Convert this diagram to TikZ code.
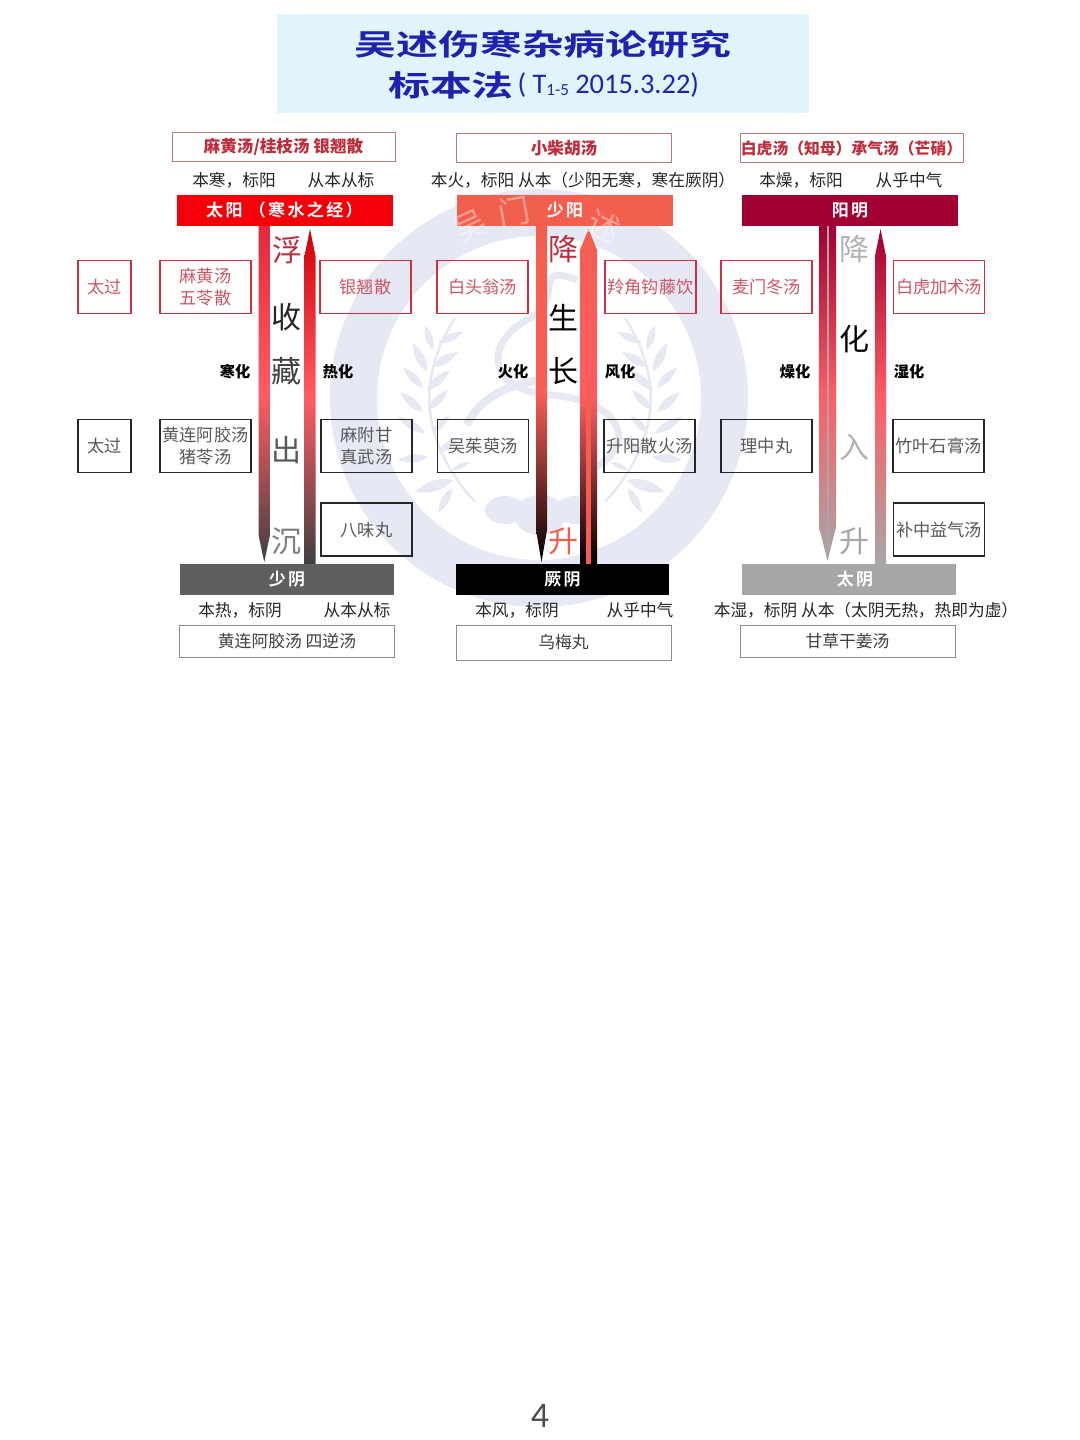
\documentclass[tikz,border=0pt]{standalone}
\usepackage{fontspec}
\setmainfont{Noto Sans CJK SC}
\newfontfamily\titlefont[FakeStretch=1.434,BoldFont={Noto Sans CJK SC Bold}]{Noto Sans CJK SC}
\newfontfamily\barfont[LetterSpace=14,BoldFont={Noto Sans CJK SC Bold}]{Noto Sans CJK SC}
\newfontfamily\datefont{Carlito}
\definecolor{titlesky}{RGB}{225, 244, 252}
\definecolor{titleblue}{RGB}{30, 35, 175}
\definecolor{herbred}{RGB}{200, 50, 65}
\definecolor{herbtext}{RGB}{205, 85, 100}
\definecolor{headred}{RGB}{190, 45, 60}
\definecolor{headedge}{RGB}{180, 125, 125}
\definecolor{taiyangred}{RGB}{245, 0, 10}
\definecolor{shaoyangred}{RGB}{243, 95, 78}
\definecolor{yangmingred}{RGB}{160, 0, 50}
\definecolor{shaoyingrey}{RGB}{95, 95, 95}
\definecolor{taiyingrey}{RGB}{167, 167, 167}
\definecolor{glowred}{RGB}{255, 92, 100}
\definecolor{shaftred}{RGB}{228, 40, 60}
\definecolor{stampblue}{RGB}{230, 232, 243}
\usetikzlibrary{positioning, calc}
\tikzset{
  herbred box/.style={draw=herbred, line width=0.7pt, text=herbtext, font=\fontsize{8.6}{11}\selectfont, align=center, minimum width=45.5pt, minimum height=26.5pt, inner sep=0pt},
  herbgrey box/.style={draw=black!85, line width=0.7pt, text=black!65, font=\fontsize{8.6}{11}\selectfont, align=center, minimum width=45.5pt, minimum height=26.5pt, inner sep=0pt},
  smallrule/.style={minimum width=26.5pt},
  headline/.style={draw=headedge, line width=0.5pt, text=headred, font=\fontsize{8.3}{10}\selectfont\bfseries, minimum width=107.5pt, minimum height=14.5pt, inner sep=0pt},
  footline/.style={draw=black!45, line width=0.5pt, text=black!75, font=\fontsize{8.4}{10}\selectfont, minimum width=107.5pt, minimum height=16pt, inner sep=0pt},
  meridian/.style={text=white, font=\barfont\fontsize{8.5}{10}\selectfont\bfseries, minimum width=108pt, minimum height=15.5pt, inner sep=0pt},
  remark/.style={text=black!85, font=\fontsize{8.35}{10}\selectfont, inner sep=0pt},
  huaword/.style={text=black, font=\fontsize{7.6}{9}\selectfont\bfseries, inner sep=0pt},
  qiword/.style={font=\fontsize{15}{16}\selectfont, inner sep=0pt},
  stampword/.style={text=white, opacity=0.4, font=\fontsize{16}{17}\selectfont, inner sep=0pt}
}
% down shaft: left, right, shoulder, tip, three colours
\newcommand{\downshaft}[7]{
  \shade[top color=#5, bottom color=#7, middle color=#6] (#1,226) -- (#2,226) -- (#2,#3) -- ({(#1+#2)/2},#4) -- (#1,#3) -- cycle;
}
% up shaft: left, right, shoulder, three colours
\newcommand{\upshaft}[6]{
  \shade[top color=#4, bottom color=#6, middle color=#5] ({(#1+#2)/2},229) -- (#2,#3) -- (#2,564) -- (#1,564) -- (#1,#3) -- cycle;
}
% one laurel branch, 1 for the left one and -1 for its mirror image
\newcommand{\laurel}[1]{
  \begin{scope}[shift={(540,0)}, xscale=#1, shift={(-540,0)}]
    \draw[stampblue, line width=1.2pt] (455,318) .. controls (425,365) and (410,430) .. (475,502);
    \foreach \bx/\by/\tx/\ty in {438/343/463/332, 432/367/458/352, 427/390/450/370, 428/410/448/390, 432/433/450/415, 438/453/458/438, 452/470/470/462,
                                 433/350/425/325, 427/372/413/343, 423/388/403/367, 423/412/400/392, 425/433/398/417, 428/457/398/460, 453/480/415/492, 452/488/438/513}
      \fill[stampblue] (\bx,\by) .. controls ($(\bx,\by)!0.45!28:(\tx,\ty)$) and ($(\tx,\ty)!0.4!-22:(\bx,\by)$) .. (\tx,\ty)
        .. controls ($(\tx,\ty)!0.4!22:(\bx,\by)$) and ($(\bx,\by)!0.45!-28:(\tx,\ty)$) .. (\bx,\by);
  \end{scope}
}
\begin{document}
\begin{tikzpicture}[x=0.5pt, y=-0.5pt]
  \useasboundingbox (0,0) rectangle (1080,1440);
  \fill[white] (0,0) rectangle (1080,1440);

  % stamp behind everything
  \fill[stampblue, even odd rule] (539,398) circle[radius=104.5pt] (539,398) circle[radius=81pt];
  \laurel{1}
  \laurel{-1}
  \draw[stampblue, line width=3.5pt] (577,280) .. controls (530,262) and (565,300) .. (530,318)
    .. controls (480,345) and (490,390) .. (550,395)
    .. controls (625,400) and (640,450) .. (588,470);
  \draw[stampblue, line width=4pt] (467,425) .. controls (480,395) and (515,382) .. (545,380);
  \fill[stampblue] (505,510) ellipse[x radius=10pt, y radius=7pt] (540,515) ellipse[x radius=13pt, y radius=10pt] (575,510) ellipse[x radius=10pt, y radius=7pt];

  % title
  \fill[titlesky] (277,14) rectangle (809,113);
  \node[text=titleblue, font=\titlefont\fontsize{14.6}{16}\selectfont\bfseries, inner sep=0pt] (title) at (543,44) {吴述伤寒杂病论研究};
  \node[text=titleblue, font=\titlefont\fontsize{14.6}{16}\selectfont\bfseries, inner sep=0pt] (subtitle) at (451,85) {标本法};
  \node[text=titleblue, font=\datefont\fontsize{14.2}{16}\selectfont, inner sep=0pt, right=1.5pt of subtitle] (subdate) {( T\raisebox{-1pt}{\fontsize{8.5}{9}\selectfont 1-5} 2015.3.22)};

  % arrows of the three columns
  \downshaft{258.5}{270}{535}{562}{shaftred}{glowred}{black!75}
  \upshaft{304.5}{315.5}{256}{taiyangred!85!black}{glowred}{black!75}
  \downshaft{536}{547}{530}{562}{shaoyangred}{shaoyangred!70!glowred}{black}
  \upshaft{580}{597}{250}{shaoyangred}{glowred}{black}
  \fill[shaoyangred] (586,380) rectangle (591,565);
  \downshaft{819}{836}{527}{561}{yangmingred}{glowred}{taiyingrey}
  \fill[taiyingrey] (826.5,226) rectangle (829,553);
  \upshaft{875}{886}{256}{yangmingred}{glowred}{taiyingrey}

  % meridian bars
  \node[meridian, fill=taiyangred] (taiyang) at (284.5,210.5) {太阳 （寒水之经）};
  \node[meridian, fill=shaoyangred] (shaoyang) at (565,210.5) {少阳\hspace{2pt}};
  \node[meridian, fill=yangmingred] (yangming) at (850,210.5) {阳明};
  \node[meridian, fill=shaoyingrey, minimum width=107pt] (shaoyin) at (287,579.5) {少阴\hspace{3pt}};
  \node[meridian, fill=black, minimum width=106.5pt] (jueyin) at (562.5,579.5) {厥阴};
  \node[meridian, fill=taiyingrey, minimum width=107pt] (taiyin) at (849,579.5) {\hspace{6pt}太阴};
  \node[stampword, rotate=25] (stampwu) at (470,226) {吴};
  \node[stampword, rotate=10] (stampmen) at (514,212) {门};
  \node[stampword, rotate=-25] (stampshu) at (604,226) {述};

  % top formulas
  \node[headline, minimum width=111.5pt] (mahuang) at (283.5,147) {麻黄汤/桂枝汤 银翘散};
  \node[headline] (chaihu) at (564,148) {小柴胡汤};
  \node[headline, minimum width=111.5pt, font=\fontsize{7.9}{10}\selectfont\bfseries] (baihu) at (851.5,148) {白虎汤（知母）承气汤（芒硝）};

  \node[remark] (taiyangben) at (234,180) {本寒，标阳};
  \node[remark] (taiyangcong) at (341,180) {从本从标};
  \node[remark] (shaoyangben) at (583,180) {本火，标阳 从本（少阳无寒，寒在厥阴）};
  \node[remark] (yangmingben) at (801,180) {本燥，标阳};
  \node[remark] (yangmingcong) at (909,180) {从乎中气};

  % excess row
  \node[herbred box, smallrule] (redexcess) at (104.5,287) {太过};
  \node[herbred box] (mahuangwuling) at (205.5,287) {麻黄汤\\五苓散};
  \node[herbred box] (yinqiao) at (365.5,287) {银翘散};
  \node[herbred box] (baitou) at (482.5,287) {白头翁汤};
  \node[herbred box] (lingjiao) at (650.5,287) {羚角钩藤饮};
  \node[herbred box] (maimen) at (766.5,287) {麦门冬汤};
  \node[herbred box] (baihuzhu) at (939,287) {白虎加术汤};

  % transformation words
  \node[huaword] (hanhua) at (235,372) {寒化};
  \node[huaword] (rehua) at (338,372) {热化};
  \node[huaword] (huohua) at (513,372) {火化};
  \node[huaword] (fenghua) at (620,372) {风化};
  \node[huaword] (zaohua) at (795,372) {燥化};
  \node[huaword] (shihua) at (909,372) {湿化};

  % deficit rows
  \node[herbgrey box, smallrule] (greyexcess) at (104.5,446) {太过};
  \node[herbgrey box] (huanglian) at (205.5,446) {黄连阿胶汤\\猪苓汤};
  \node[herbgrey box] (mafu) at (366.5,446) {麻附甘\\真武汤};
  \node[herbgrey box] (wuzhuyu) at (483,446) {吴茱萸汤};
  \node[herbgrey box] (shengyang) at (649.5,446) {升阳散火汤};
  \node[herbgrey box] (lizhong) at (766.5,446) {理中丸};
  \node[herbgrey box] (zhuye) at (938.5,446) {竹叶石膏汤};
  \node[herbgrey box] (bawei) at (366.5,529.5) {八味丸};
  \node[herbgrey box] (buzhong) at (939,529.5) {补中益气汤};

  % words between the arrows
  \node[qiword, text=headred] (fu) at (287,250) {浮};
  \node[qiword, text=black!85] (shou) at (286,317) {收};
  \node[qiword, text=black!75] (cang) at (286,371) {藏};
  \node[qiword, text=black!65] (chu) at (286,450) {出};
  \node[qiword, text=black!50] (chen) at (286,541) {沉};
  \node[qiword, text=headred] (jiang) at (563,249) {降};
  \node[qiword, text=black] (sheng) at (563,318) {生};
  \node[qiword, text=black] (zhang) at (563,371) {长};
  \node[qiword, text=shaoyangred] (shengup) at (563,541) {升};
  \node[qiword, text=black!30] (jianggrey) at (854,249) {降};
  \node[qiword, text=black] (hua) at (854,339) {化};
  \node[qiword, text=black!30] (ru) at (854,447) {入};
  \node[qiword, text=black!35] (shenggrey) at (854,541) {升};

  % bottom remarks and formulas
  \node[remark] (shaoyinben) at (240,610) {本热，标阴};
  \node[remark] (shaoyincong) at (357,610) {从本从标};
  \node[remark] (jueyinben) at (517,610) {本风，标阴};
  \node[remark] (jueyincong) at (640,610) {从乎中气};
  \node[remark] (taiyinben) at (866,610) {本湿，标阴 从本（太阴无热，热即为虚）};
  \node[footline] (huangliansini) at (287,641) {黄连阿胶汤 四逆汤};
  \node[footline, minimum height=17.5pt] (wumei) at (563.5,642.5) {乌梅丸};
  \node[footline] (gancao) at (847.5,641) {甘草干姜汤};

  \node[text=black!70, font=\datefont\fontsize{18}{20}\selectfont, inner sep=0pt] (pagenum) at (540,1416) {4};
\end{tikzpicture}
\end{document}
